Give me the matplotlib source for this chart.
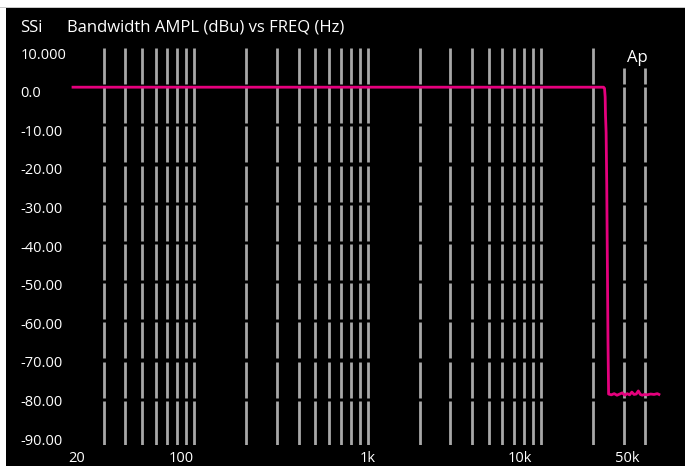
import numpy as np
import matplotlib
matplotlib.use("Agg")
import matplotlib.pyplot as plt
from matplotlib.patches import Rectangle

# measured response (Hz, dBu)
freq = [20, 50, 100, 500, 1000, 5000, 10000, 20000, 23000, 23300, 23500,
        23600, 23800, 24000, 24200, 24400, 24600, 25500, 26500, 27500,
        28500, 29500, 30500, 31500, 32500, 33500, 34500, 35500, 36500,
        37500, 38500, 39500, 41000, 43000, 45000, 47000, 48000]
ampl = [0.0, 0.0, 0.0, 0.0, 0.0, 0.0, 0.0, 0.0, 0.0, -0.3, -2.5,
        -7.0, -11.5, -25.0, -45.0, -65.0, -78.3, -78.5, -78.2, -78.6,
        -78.3, -78.0, -78.6, -78.2, -78.5, -77.8, -78.4, -78.3, -77.5,
        -78.4, -78.6, -78.4, -78.5, -78.3, -78.4, -78.2, -78.4]

grid_freqs = ([30, 40, 50, 60, 70, 80, 90, 100] +
              [200, 300, 400, 500, 600, 700, 800, 900, 1000] +
              [2000, 3000, 4000, 5000, 6000, 7000, 8000, 9000, 10000] +
              [20000, 30000, 40000])
y_ticks = [10, 0, -10, -20, -30, -40, -50, -60, -70, -80]
y_labels = ["10.000", "0.0", "-10.00", "-20.00", "-30.00", "-40.00",
            "-50.00", "-60.00", "-70.00", "-80.00", "-90.00"]
x_labels = ["20", "100", "1k", "10k", "50k"]
x_label_pos = [21, 84, 1000, 7600, 31500]

W, H = 685, 466
fig = plt.figure(figsize=(W / 100, H / 100), dpi=100, facecolor="white")
fig.patches.append(Rectangle((6 / W, 0), 1, 1 - 8 / H, transform=fig.transFigure,
                             facecolor="black", edgecolor="none", zorder=-10))
fig.patches.append(Rectangle((0, 1 - 8 / H), 1, 1 / H, transform=fig.transFigure,
                             facecolor="#c8c8c8", edgecolor="none", zorder=-10))

ax = fig.add_axes([73 / W, 1 - 445 / H, 589 / W, 397 / H])
ax.set_zorder(1)
ax.set_facecolor("none")
ax.set_xscale("log")
ax.set_xlim(20, 50000)
ax.set_ylim(-91.3, 10)
for s in ax.spines.values():
    s.set_visible(False)

# broken vertical grid lines
for f in grid_freqs:
    for v in y_ticks:
        top = v
        if v == 10 and f in (30000, 40000):
            top = 5.0
        bottom = v - 9.2 if v > -80 else -91.3
        ax.vlines(f, bottom, top, color="#a8a8a8", lw=2, zorder=1)

ax.plot(freq, ampl, color="#e5007d", lw=2, zorder=3, clip_on=False)

font = "Open Sans"
ax.set_yticks(np.linspace(8.7, -89.8, 11))
ax.set_yticklabels(y_labels)
ax.set_xticks(x_label_pos)
ax.set_xticklabels(x_labels)
ax.xaxis.set_minor_locator(plt.NullLocator())
ax.tick_params(length=0, colors="white", labelsize=10.5)
for lab in ax.get_yticklabels():
    lab.set_fontfamily(font)
    lab.set_horizontalalignment("left")
for lab in ax.get_xticklabels():
    lab.set_fontfamily(font)
ax.tick_params(axis="y", pad=38)
ax.tick_params(axis="x", pad=4.5)

fig.text(20 / W, 1 - 28 / H, "SSi", color="white", fontsize=12, family=font, va="center")
fig.text(67 / W, 1 - 28 / H, "Bandwidth AMPL (dBu) vs FREQ (Hz)", color="white",
         fontsize=12, family=font, va="center")
ax.text(36000, 5.5, "Ap", color="white", fontsize=12, family=font, ha="center", va="bottom")

fig.savefig("out.png", dpi=100, facecolor="white")
